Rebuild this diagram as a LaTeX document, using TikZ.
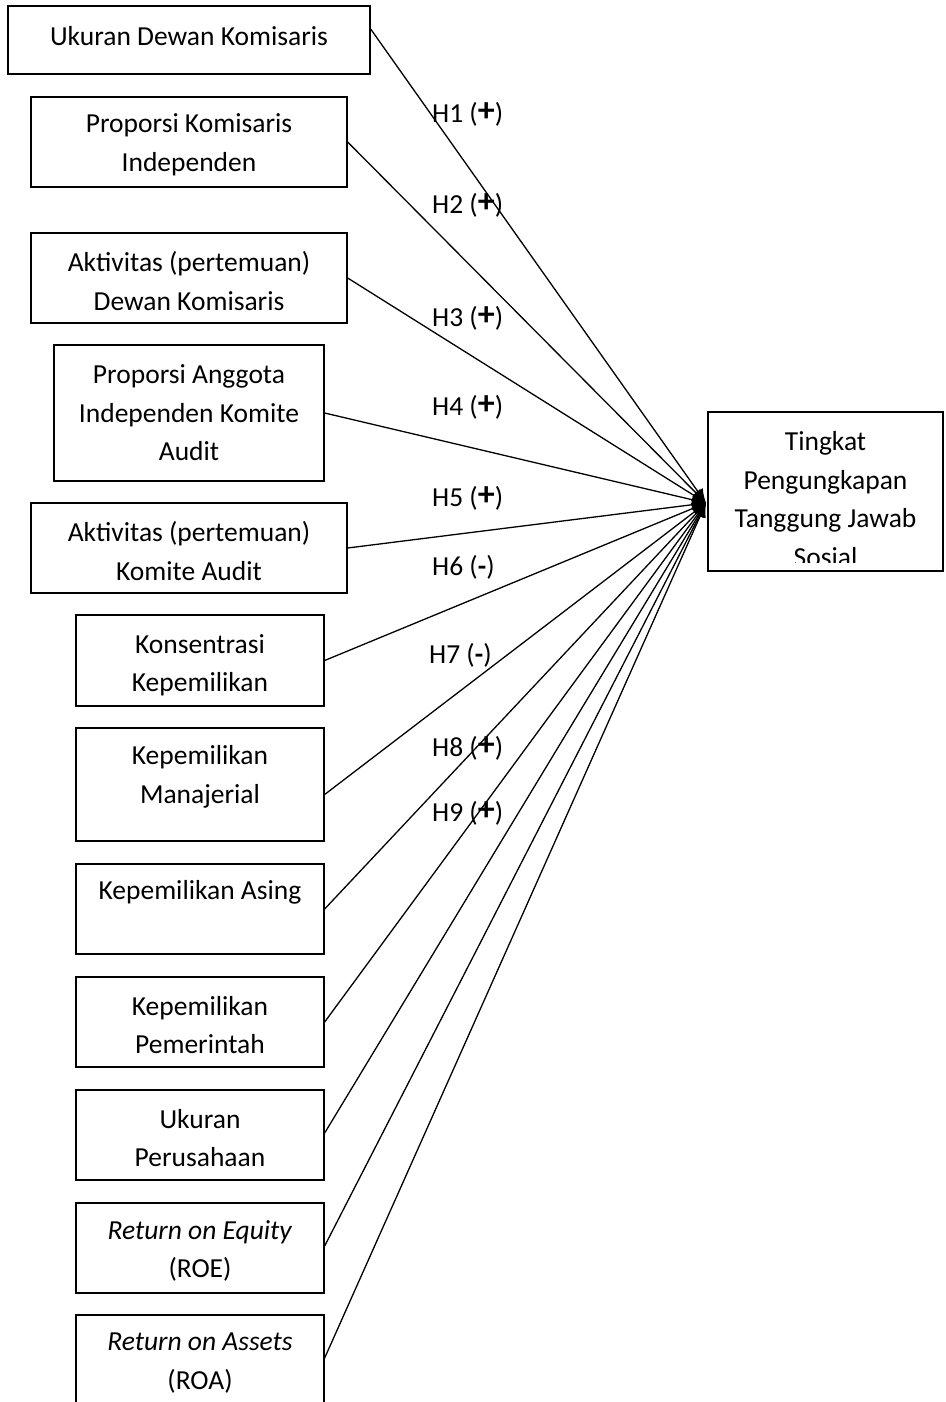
\documentclass[tikz,border=0pt]{standalone}
\usepackage{fontspec}
\setmainfont{Carlito}
\usetikzlibrary{arrows.meta}
\newcommand\hplus{\raisebox{0.5pt}{\fontsize{34}{34}\selectfont\bfseries +}}
\newcommand\hminus{{\bfseries -}}
\begin{document}
\begin{tikzpicture}[x=1pt,y=-1pt,
 box/.style={draw, line width=1.3pt, inner sep=0pt},
 txt/.style={align=center, inner sep=0pt, font=\fontsize{27.5}{38.5}\selectfont},
 hyp/.style={anchor=west, inner sep=0pt, font=\fontsize{27.5}{32}\selectfont},
 link/.style={line width=1.3pt, -{Latex[length=14pt,width=12pt]}}]
\useasboundingbox (0,0) rectangle (945,1402);
\begin{scope}
\clip (0,0) rectangle (945,1402);
% boxes
\node[box, minimum width=362pt, minimum height=68pt] (b1) at (189,40) {};
\node[box, minimum width=316pt, minimum height=90pt] (b2) at (189,142) {};
\node[box, minimum width=316pt, minimum height=90pt] (b3) at (189,278) {};
\node[box, minimum width=270pt, minimum height=136pt] (b4) at (189,413) {};
\node[box, minimum width=316pt, minimum height=90pt] (b5) at (189,548) {};
\node[box, minimum width=248pt, minimum height=91pt] (b6) at (200,660.5) {};
\node[box, minimum width=248pt, minimum height=113pt] (b7) at (200,784.5) {};
\node[box, minimum width=248pt, minimum height=90pt] (b8) at (200,909) {};
\node[box, minimum width=248pt, minimum height=90pt] (b9) at (200,1022) {};
\node[box, minimum width=248pt, minimum height=90pt] (b10) at (200,1135) {};
\node[box, minimum width=248pt, minimum height=90pt] (b11) at (200,1248) {};
\node[box, minimum width=248pt, minimum height=90pt] (b12) at (200,1360) {};
\node[box, minimum width=235pt, minimum height=159pt] (tg) at (825.5,491.5) {};
% texts
\node[txt] (t1) at (189,36) {Ukuran Dewan Komisaris};
\node[txt] (t2) at (189,145) {Proporsi Komisaris\\Independen};
\node[txt] (t3) at (189,281) {Aktivitas (pertemuan)\\Dewan Komisaris};
\node[txt] (t4) at (189,413) {Proporsi Anggota\\Independen Komite\\Audit};
\node[txt] (t5) at (189,551) {Aktivitas (pertemuan)\\Komite Audit};
\node[txt] (t6) at (200,665) {Konsentrasi\\Kepemilikan};
\node[txt] (t7) at (200,777) {Kepemilikan\\Manajerial};
\node[txt] (t8) at (200,892) {Kepemilikan Asing};
\node[txt] (t9) at (200,1025) {Kepemilikan\\Pemerintah};
\node[txt] (t10) at (200,1138) {Ukuran\\Perusahaan};
\node[txt] (t11) at (200,1251) {\textit{Return on Equity}\\(ROE)};
\node[txt] (t12) at (200,1363) {\textit{Return on Assets}\\(ROA)};
\begin{scope}
\clip (709,413) rectangle (943,562);
\node[txt] (tt) at (825.5,499) {Tingkat\\Pengungkapan\\Tanggung Jawab\\Sosial};
\end{scope}
% connectors
\coordinate (tip) at (706,503);
\draw[link] ([yshift=11pt]b1.east) -- (tip);
\draw[link] (b2.east) -- (tip);
\draw[link] (b3.east) -- (tip);
\draw[link] (b4.east) -- (tip);
\draw[link] (b5.east) -- (tip);
\draw[link] (b6.east) -- (tip);
\draw[link] ([yshift=-10pt]b7.east) -- (tip);
\draw[link] (b8.east) -- (tip);
\draw[link] (b9.east) -- (tip);
\draw[link] ([yshift=2pt]b10.east) -- (tip);
\draw[link] ([yshift=2pt]b11.east) -- (tip);
\draw[link] ([yshift=2pt]b12.east) -- (tip);
% hypothesis labels
\node[hyp] (h1) at (432,114) {H1 (\hplus)};
\node[hyp] (h2) at (432,205) {H2 (\hplus)};
\node[hyp] (h3) at (432,318) {H3 (\hplus)};
\node[hyp] (h4) at (432,407) {H4 (\hplus)};
\node[hyp] (h5) at (432,498) {H5 (\hplus)};
\node[hyp] (h6) at (432,567) {H6 (\hminus)};
\node[hyp] (h7) at (429,655) {H7 (\hminus)};
\node[hyp] (h8) at (432,748) {H8 (\hplus)};
\node[hyp] (h9) at (432,813) {H9 (\hplus)};
\end{scope}
\end{tikzpicture}
\end{document}
